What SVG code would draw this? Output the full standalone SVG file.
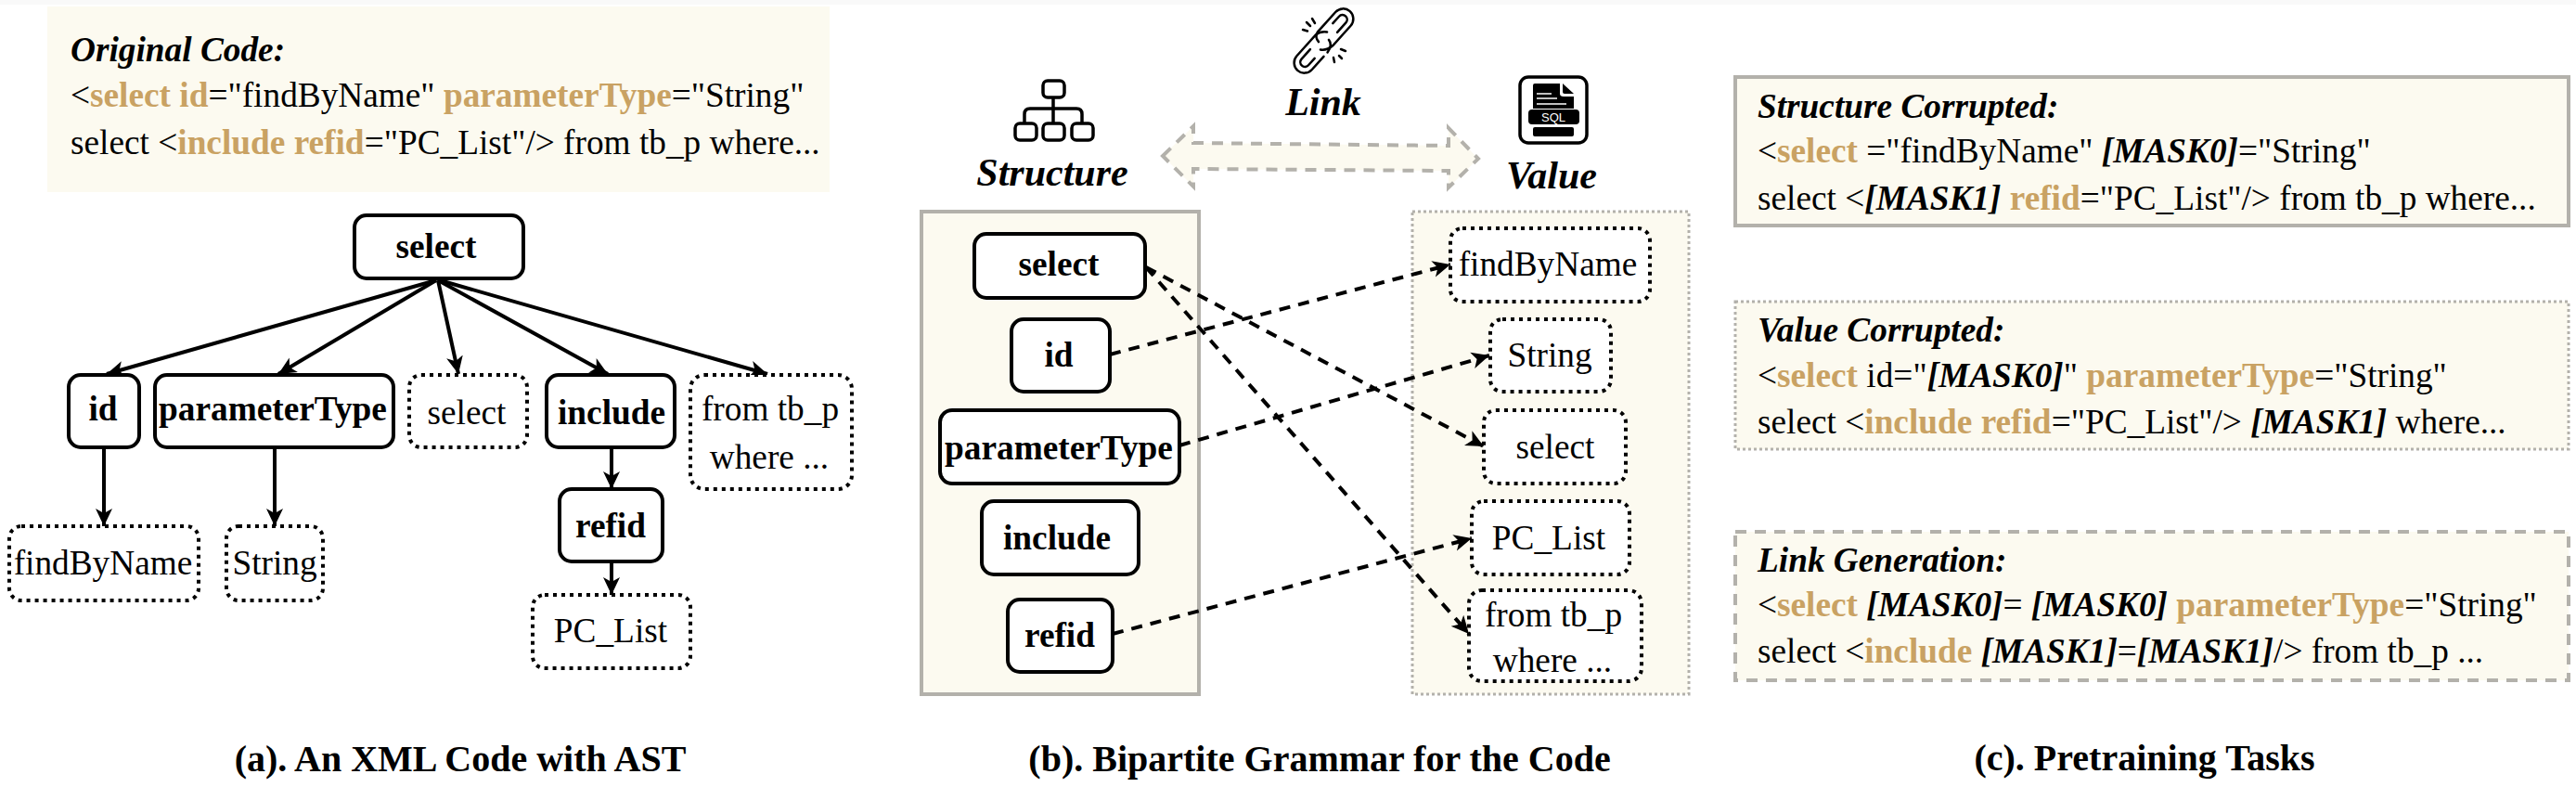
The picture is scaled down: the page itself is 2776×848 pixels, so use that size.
<svg xmlns="http://www.w3.org/2000/svg" width="2776" height="848" viewBox="0 0 2776 848">
<style>
text{font-family:"Liberation Serif","Times New Roman",serif;font-size:37.3px;fill:#000}
.c{text-anchor:middle}
.b{font-weight:700}
.i{font-style:italic;font-weight:700}
.g{fill:#c9a263;font-weight:700}
.cap{font-weight:700;font-size:40px;text-anchor:middle}
.h{font-style:italic;font-weight:700;font-size:42px;text-anchor:middle}
.s{fill:#fff;stroke:#000;stroke-width:4}
.d{fill:#fff;stroke:#000;stroke-width:4;stroke-dasharray:4 5}
.e{fill:none;stroke:#000;stroke-width:4}
.ed{fill:none;stroke:#000;stroke-width:4;stroke-dasharray:12 9}
.pb{fill:#fcfaf0;stroke:#b3b1ab}
</style>
<defs>
<marker id="a" markerUnits="userSpaceOnUse" markerWidth="22" markerHeight="22" refX="19" refY="11" orient="auto">
<path d="M0 2L19 11L0 20L5 11Z" fill="#000"/>
</marker>
</defs>
<rect width="2776" height="848" fill="#fff"/>
<rect width="2776" height="5" fill="#f9f9f9"/>

<g id="code-box">
<rect x="51" y="7" width="843" height="200" fill="#fcfaf0"/>
<text x="76" y="66" class="i">Original Code:</text>
<text x="76" y="115">&lt;<tspan class="g">select id</tspan>="findByName" <tspan class="g">parameterType</tspan>="String"</text>
<text x="76" y="166">select &lt;<tspan class="g">include refid</tspan>="PC_List"/&gt; from tb_p where...</text>
</g>

<g id="ast-connectors">
<path class="e" marker-end="url(#a)" d="M470 302L115 403"/>
<path class="e" marker-end="url(#a)" d="M470 302L300 403"/>
<path class="e" marker-end="url(#a)" d="M472 302L494 403"/>
<path class="e" marker-end="url(#a)" d="M472 302L655 403"/>
<path class="e" marker-end="url(#a)" d="M474 302L827 403"/>
<path class="e" marker-end="url(#a)" d="M112 482V567"/>
<path class="e" marker-end="url(#a)" d="M296 482V567"/>
<path class="e" marker-end="url(#a)" d="M659 482V527"/>
<path class="e" marker-end="url(#a)" d="M659 605V641"/>
</g>

<g id="a-select"><rect class="s" x="382" y="232" width="182" height="68" rx="13"/><text class="b c" x="470" y="278">select</text></g>
<g id="a-id"><rect class="s" x="74" y="404" width="76" height="78" rx="13"/><text class="b c" x="111" y="453">id</text></g>
<g id="a-parameterType"><rect class="s" x="167" y="404" width="257" height="78" rx="13"/><text class="b c" x="294" y="453">parameterType</text></g>
<g id="a-select-value"><rect class="d" x="441" y="404" width="127" height="78" rx="13"/><text class="c" x="503" y="457">select</text></g>
<g id="a-include"><rect class="s" x="589" y="404" width="138" height="78" rx="13"/><text class="b c" x="659" y="457">include</text></g>
<g id="a-from"><rect class="d" x="744" y="404" width="174" height="123" rx="15"/><text class="c" x="830" y="453">from tb_p</text><text class="c" x="829" y="505">where ...</text></g>
<g id="a-findByName"><rect class="d" x="10" y="567" width="204" height="80" rx="13"/><text class="c" x="111" y="619">findByName</text></g>
<g id="a-String"><rect class="d" x="244" y="567" width="104" height="80" rx="13"/><text class="c" x="296" y="619">String</text></g>
<g id="a-refid"><rect class="s" x="603" y="527" width="111" height="78" rx="13"/><text class="b c" x="658" y="579">refid</text></g>
<g id="a-PC_List"><rect class="d" x="574" y="641" width="170" height="79" rx="13"/><text class="c" x="658" y="692">PC_List</text></g>
<text class="cap" x="496" y="831">(a). An XML Code with AST</text>

<g id="link-icon" fill="none" stroke="#000" stroke-width="2.5" stroke-linecap="round">
<g transform="translate(1436 33) rotate(42)">
<path d="M-3 19Q-10 18 -11 12V-17A11 11 0 0 1 11 -17V12Q10 20 4 24"/>
<path d="M-5 -6V-16A5 5 0 0 1 5 -16V-2"/>
</g>
<g transform="translate(1417 55) rotate(42)">
<path d="M11 -2V17A11 11 0 0 1 -11 17V-14Q-10 -20 -4 -24"/>
<path d="M5 6V16A5 5 0 0 1 -5 16V2"/>
<path d="M3 -19Q10 -18 11 -8"/>
</g>
<path d="M1404 32l5 1.500M1408 24l4 4M1414 20l3 5M1445 53l5 2M1443 60l3 3M1437 62l1 5"/>
</g>
<text class="h" x="1426" y="124">Link</text>
<g id="structure-icon" fill="none" stroke="#000" stroke-width="3.500">
<rect x="1124" y="87" width="23" height="18" rx="5"/>
<rect x="1094" y="133" width="23" height="18" rx="5"/>
<rect x="1124" y="133" width="23" height="18" rx="5"/>
<rect x="1155" y="133" width="23" height="18" rx="5"/>
<path d="M1135 105V133M1104 133V123Q1104 117 1110 117H1160Q1166 117 1166 123V133"/>
</g>
<text class="h" x="1134" y="200">Structure</text>
<g id="value-icon">
<rect x="1638" y="83" width="72" height="71" rx="9" fill="#fff" stroke="#000" stroke-width="3.500"/>
<path d="M1654 90H1681V101Q1681 104 1685 104H1696V117H1652V92Q1652 90 1654 90Z" fill="#000"/>
<path d="M1684 90L1696 101H1686Q1684 101 1684 99Z" fill="#000"/>
<path d="M1656 101H1672M1656 106H1678M1656 112H1688" stroke="#fff" stroke-width="1.500"/>
<rect x="1647" y="118" width="55" height="16" rx="4" fill="#000"/>
<rect x="1652" y="137" width="44" height="10" rx="2" fill="#000"/>
<text x="1674" y="131" text-anchor="middle" style="font-family:'Liberation Sans',sans-serif;font-size:13px;fill:#fff">SQL</text>
</g>
<text class="h" x="1672" y="203">Value</text>
<path id="link-arrow" class="pb" stroke-width="4" stroke-dasharray="12 9" d="M1253 168L1286 136V154L1561 157V138L1593 171L1561 202V184L1286 182V201Z"/>

<g id="structure-panel"><rect class="pb" x="993" y="228" width="299" height="520" stroke-width="4"/></g>
<g id="value-panel"><rect class="pb" x="1522" y="228" width="298" height="520" stroke-width="3" stroke-dasharray="3 3"/></g>

<g id="b-select"><rect class="s" x="1050" y="252" width="184" height="69" rx="13"/><text class="b c" x="1141" y="297">select</text></g>
<g id="b-id"><rect class="s" x="1090" y="344" width="106" height="78" rx="13"/><text class="b c" x="1141" y="395">id</text></g>
<g id="b-parameterType"><rect class="s" x="1013" y="442" width="258" height="79" rx="13"/><text class="b c" x="1141" y="495">parameterType</text></g>
<g id="b-include"><rect class="s" x="1058" y="540" width="169" height="79" rx="13"/><text class="b c" x="1139" y="592">include</text></g>
<g id="b-refid"><rect class="s" x="1086" y="646" width="113" height="78" rx="13"/><text class="b c" x="1142" y="697">refid</text></g>
<g id="b-findByName"><rect class="d" x="1563" y="246" width="215" height="79" rx="13"/><text class="c" x="1668" y="297">findByName</text></g>
<g id="b-String"><rect class="d" x="1606" y="344" width="130" height="78" rx="13"/><text class="c" x="1670" y="395">String</text></g>
<g id="b-select-value"><rect class="d" x="1599" y="442" width="153" height="79" rx="13"/><text class="c" x="1676" y="494">select</text></g>
<g id="b-PC_List"><rect class="d" x="1586" y="540" width="170" height="79" rx="13"/><text class="c" x="1669" y="592">PC_List</text></g>
<g id="b-from"><rect class="d" x="1583" y="636" width="186" height="98" rx="14"/><text class="c" x="1674" y="675">from tb_p</text><text class="c" x="1673" y="724">where ...</text></g>

<g id="bipartite-connectors">
<path class="ed" marker-end="url(#a)" d="M1196 382L1563 285"/>
<path class="ed" marker-end="url(#a)" d="M1271 480L1605 383"/>
<path class="ed" marker-end="url(#a)" d="M1235 288L1599 481"/>
<path class="ed" marker-end="url(#a)" d="M1235 288L1583 683"/>
<path class="ed" marker-end="url(#a)" d="M1199 683L1586 580"/>
</g>
<text class="cap" x="1422" y="831">(b). Bipartite Grammar for the Code</text>

<g id="task-structure">
<rect class="pb" x="1870" y="83" width="898" height="160" stroke-width="4"/>
<text x="1894" y="127" class="i">Structure Corrupted:</text>
<text x="1894" y="175">&lt;<tspan class="g">select</tspan> ="findByName" <tspan class="i">[MASK0]</tspan>="String"</text>
<text x="1894" y="226">select &lt;<tspan class="i">[MASK1]</tspan> <tspan class="g">refid</tspan>="PC_List"/&gt; from tb_p where...</text>
</g>
<g id="task-value">
<rect class="pb" x="1870" y="325" width="898" height="159" stroke-width="3" stroke-dasharray="3 3"/>
<text x="1894" y="368" class="i">Value Corrupted:</text>
<text x="1894" y="417">&lt;<tspan class="g">select</tspan> id="<tspan class="i">[MASK0]</tspan>" <tspan class="g">parameterType</tspan>="String"</text>
<text x="1894" y="467">select &lt;<tspan class="g">include refid</tspan>="PC_List"/&gt; <tspan class="i">[MASK1]</tspan> where...</text>
</g>
<g id="task-link">
<rect class="pb" x="1870" y="573" width="898" height="160" stroke-width="4" stroke-dasharray="12 9"/>
<text x="1894" y="616" class="i">Link Generation:</text>
<text x="1894" y="664">&lt;<tspan class="g">select</tspan> <tspan class="i">[MASK0]</tspan>= <tspan class="i">[MASK0]</tspan> <tspan class="g">parameterType</tspan>="String"</text>
<text x="1894" y="714">select &lt;<tspan class="g">include</tspan> <tspan class="i">[MASK1]</tspan>=<tspan class="i">[MASK1]</tspan>/&gt; from tb_p ...</text>
</g>
<text class="cap" x="2311" y="830">(c). Pretraining Tasks</text>
</svg>
